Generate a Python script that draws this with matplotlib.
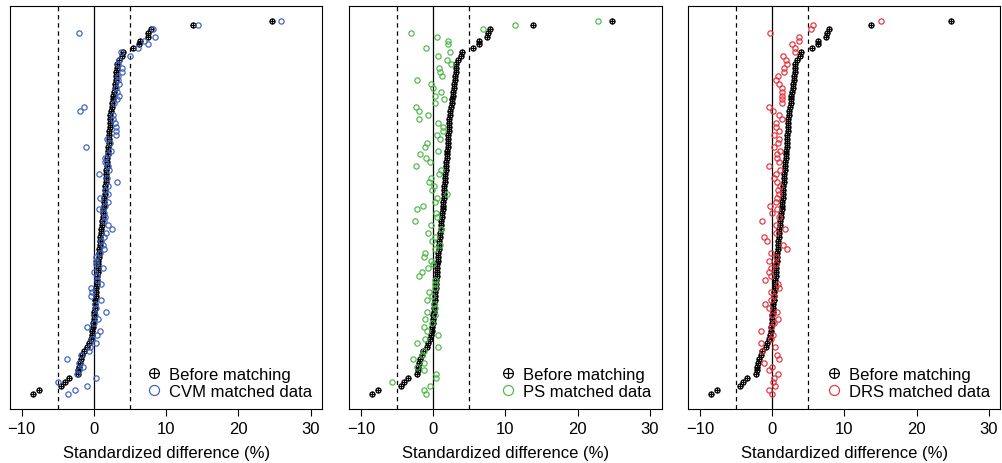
import numpy as np
import matplotlib
matplotlib.use("Agg")
import matplotlib.pyplot as plt
from matplotlib.path import Path

plt.rcParams['font.family'] = ['Liberation Sans', 'DejaVu Sans']

# standardized differences (%) per covariate, ordered by the before-matching value
before = [-8.4, -7.6, -4.5, -4.0, -3.5, -2.2, -2.15, -2.1, -1.95, -1.8,
          -1.6, -1.4, -0.9, -0.7, -0.45, -0.3, -0.2, -0.12, -0.07, -0.03,
          0.02, 0.07, 0.12, 0.17, 0.21, 0.26, 0.3, 0.35, 0.4, 0.44,
          0.48, 0.52, 0.56, 0.6, 0.64, 0.67, 0.71, 0.76, 0.81, 0.86,
          0.91, 0.96, 1.02, 1.08, 1.14, 1.2, 1.25, 1.3, 1.35, 1.4,
          1.45, 1.5, 1.53, 1.57, 1.62, 1.66, 1.7, 1.74, 1.78, 1.82,
          1.86, 1.9, 1.95, 2.0, 2.03, 2.06, 2.1, 2.13, 2.17, 2.2,
          2.25, 2.3, 2.4, 2.48, 2.55, 2.62, 2.68, 2.78, 2.88, 2.95,
          3.0, 3.05, 3.1, 3.17, 3.23, 3.5, 3.83, 4.0, 5.45, 6.3,
          6.4, 7.45, 7.55, 7.85, 13.75, 24.7]

cvm = [-3.55, -2.6, -0.97, -5.0, 0.32, -2.3, -2.1, -1.45, -2.0, -3.73,
       -1.8, -0.62, -0.5, 0.32, -0.2, 0.45, 0.85, -0.97, 0.0, 0.64,
       0.1, 1.68, 0.3, 0.2, 1.0, -0.35, -0.3, -0.37, 1.0, 0.5,
       0.41, 0.05, 1.33, 0.3, 0.35, 0.3, 0.9, 1.43, 1.2, 1.0,
       1.47, 1.66, 2.48, 2.02, 1.45, 1.5, 1.35, 0.78, 1.6, 1.9,
       0.82, 1.9, 1.6, 1.9, 3.27, 1.8, 0.72, 2.1, 1.9, 1.55,
       1.6, 2.0, 2.4, -1.15, 2.2, 1.88, 3.0, 3.1, 3.0, 2.9,
       2.7, 2.6, -1.9, -1.3, 2.8, 3.27, 3.46, 3.2, 3.0, 3.5,
       3.4, 3.3, 3.96, 3.9, 3.4, 3.5, 4.97, 3.77, 6.08, 7.47,
       7.0, 8.5, -2.0, 8.16, 14.4, 25.95]

ps = [-0.92, -1.29, -0.5, -5.76, 0.45, 0.42, -1.29, -2.2, -1.24, -2.76,
      -1.5, -1.2, 0.72, -2.2, -1.06, 0.65, -0.8, -1.33, -0.2, -1.15,
      0.2, -0.78, 0.2, 0.15, -0.83, -0.13, -0.55, 0.2, 0.2, 0.23,
      -2.0, -1.6, -0.69, 0.0, -0.23, -1.29, -1.15, 0.23, 0.93, -0.1,
      0.23, -0.7, 1.06, -0.32, -2.48, 0.55, 0.37, -2.2, -1.38, 0.23,
      0.55, 1.85, -0.18, 0.14, -0.64, -0.23, 0.83, 1.02, -2.44, -0.5,
      -0.92, -1.75, 0.65, -1.1, -0.78, 1.0, 0.55, 1.38, 1.38, 0.65,
      -2.0, -0.69, -1.94, -2.35, 0.19, 1.57, 0.28, 1.1, 0.05, -0.32,
      -2.3, 1.2, 0.93, 0.83, 2.45, 1.9, 0.7, 2.3, -0.97, 2.1,
      2.1, 0.47, -3.13, 6.92, 11.3, 22.8]

drs = [0.0, -0.4, 0.37, 0.1, 0.3, 0.83, -0.4, 0.0, -1.15, 0.97,
       0.7, -1.33, 0.37, -1.5, -0.1, 0.1, -1.55, -0.2, 0.2, 0.83,
       0.0, 0.7, -0.4, -0.96, -0.1, 0.3, -0.1, 0.9, 0.83, -0.96,
       -0.2, -0.4, -0.09, 0.55, -0.46, 0.6, -0.09, 2.03, 1.53, -0.64,
       -1.06, 0.47, 1.75, 0.5, -1.38, 0.92, 0.05, 0.7, -0.27, 0.55,
       0.7, 0.97, 0.85, 1.05, 0.7, 0.28, 0.6, 1.1, -0.46, 0.97,
       0.7, 0.74, 1.16, 0.28, 0.83, 0.97, 0.28, 0.97, 0.6, 0.6,
       1.34, 0.97, 0.1, -0.41, 1.43, 1.43, 1.35, 1.3, 1.43, 0.97,
       0.6, 0.83, 1.6, 1.66, 2.0, 1.94, 1.53, 3.1, 3.1, 2.82,
       3.7, 3.7, -0.27, 5.4, 5.59, 15.07]

methods = ['CVM', 'PS', 'DRS']
matched = [cvm, ps, drs]
colors = ['#3A5FBF', '#4CB847', '#E8313A']
xticks = [-10, 0, 10, 20, 30]

# circle with a plus, like R's pch = 10
circ = Path.unit_circle()
cross = Path([[-1, 0], [1, 0], [0, -1], [0, 1]],
             [Path.MOVETO, Path.LINETO, Path.MOVETO, Path.LINETO])
oplus = Path.make_compound_path(circ, cross)

rows = np.arange(1, len(before) + 1)
n = len(before)
pad = 0.04 * (n - 1)

fig = plt.figure(figsize=(10.02, 4.64), dpi=100)
lefts = [0.0100, 0.3486, 0.6869]
for i, (name, vals, col) in enumerate(zip(methods, matched, colors)):
    ax = fig.add_axes([lefts[i], 0.1164, 0.3116, 0.8686])
    ax.axvline(0, color='black', lw=0.9, zorder=1)
    ax.axvline(-5, color='black', lw=0.9, ls=(0, (3.5, 3)), zorder=1)
    ax.axvline(5, color='black', lw=0.9, ls=(0, (3.5, 3)), zorder=1)
    ax.plot(before, rows, ls='none', marker=oplus, ms=3.7, mfc='none',
            mec='black', mew=0.85, label='Before matching', zorder=3)
    ax.plot(vals, rows, ls='none', marker='o', ms=3.8, mfc='none',
            mec=col, mew=0.85, label=f'{name} matched data', zorder=4)
    ax.set_xlim(-10 - 0.04 * 40, 30 + 0.04 * 40)
    ax.set_ylim(1 - pad, n + pad)
    ax.set_yticks([])
    ax.set_xticks(xticks)
    ax.set_xticklabels([f'\u2212{abs(t)}' if t < 0 else str(t) for t in xticks])
    ax.tick_params(axis='x', direction='out', length=5, width=0.8,
                   labelsize=12, pad=4)
    for s in ax.spines.values():
        s.set_linewidth(0.8)
    ax.set_xlabel('Standardized difference (%)', fontsize=12, labelpad=6)
    ax.legend(loc='lower right', frameon=False, fontsize=12, markerscale=1.9,
              handlelength=0.8, handletextpad=0.5, borderaxespad=0.2,
              labelspacing=0.1)

fig.savefig('out.png', dpi=100)
